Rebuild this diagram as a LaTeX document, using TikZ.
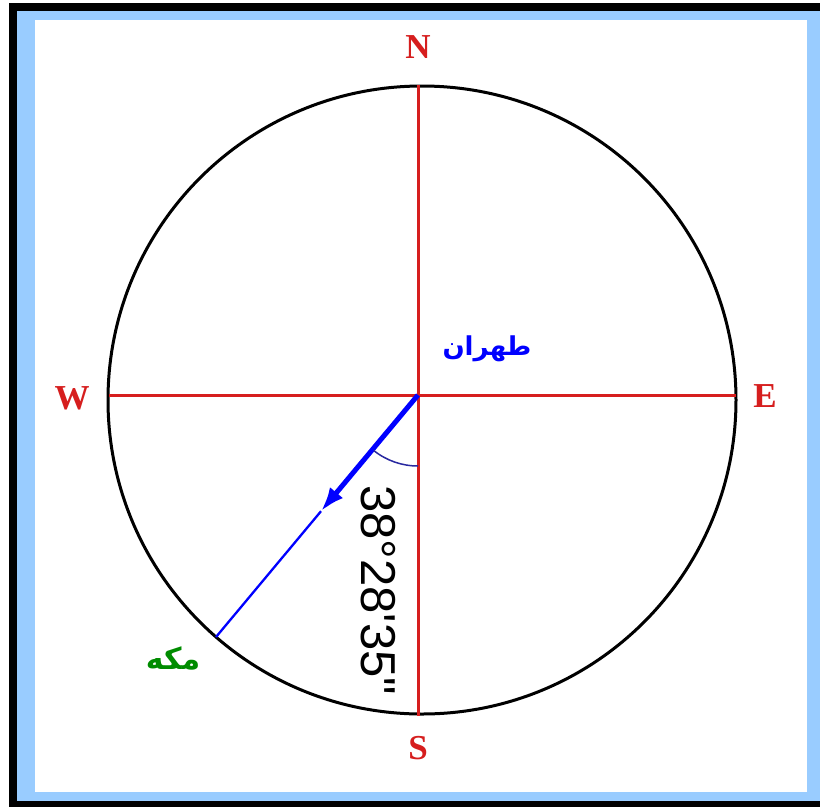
\documentclass[tikz,border=0pt]{standalone}
\usepackage{fontspec}
\setmainfont{Liberation Serif}
\newfontfamily\anglefont{Liberation Sans}
\newfontfamily\arabicfont[Script=Arabic]{DejaVu Sans}
\TeXXeTstate=1
\usetikzlibrary{arrows.meta, calc}

\definecolor{frameblue}{RGB}{153,204,255}
\definecolor{axisred}{RGB}{214,30,30}
\definecolor{arcblue}{RGB}{40,40,160}

\begin{document}
\begin{tikzpicture}[
    x=1pt, y=-1pt,
    dir/.style   = {text=axisred, inner sep=0pt,
                    font=\fontsize{35}{35}\selectfont\bfseries},
    axis/.style  = {draw=axisred, line width=3pt},
    city/.style  = {inner sep=0pt, font=\fontsize{26}{26}\selectfont\arabicfont\bfseries},
    qibla/.style = {draw=blue, line width=5pt, -{Latex[length=24pt,width=17pt]}},
    lbl/.style   = {inner sep=0pt, rotate=-90,
                    font=\fontsize{49}{49}\selectfont\anglefont},
]
    \useasboundingbox (0,0) rectangle (820,807);

    % ── Cadre ──
    \fill[black] (9,3) rectangle (820,807);
    \fill[frameblue] (17,11) rectangle (820,801);
    \fill[white] (35,20) rectangle (807,792);

    % ── Cercle et axes ──
    \draw[line width=3pt] (422,400) circle[radius=314pt];

    \coordinate (tehran) at (418,395);
    \coordinate (north) at (418,85);
    \coordinate (south) at (418,716);
    \coordinate (west) at (109,395);
    \coordinate (east) at (736,395);
    \coordinate (mecca) at (216,637);

    \draw[axis] (north) -- (south);
    \draw[axis] (west) -- (east);

    \node[dir] (n) at (418,47) {N};
    \node[dir] (s) at (418,748) {S};
    \node[dir] (w) at (72,398) {W};
    \node[dir] (e) at (765,396) {E};

    % ── Direction de la qibla ──
    \coordinate (tip) at ($(tehran)!0.48!(mecca)$);
    \draw[blue, line width=2.3pt] (tip) -- (mecca);
    \draw[qibla] (tehran) -- (tip);
    \draw[arcblue, line width=1.5pt] (tehran) ++(0,71) arc[start angle=-90, end angle=-128.5, radius=71pt];

    \node[lbl] (angle) at (378,590) {38°28'35"};

    % ── Villes ──
    \node[city, text=blue] (tehranlbl) at (487,349) {\beginR طهران\endR};
    \node[city, text=green!55!black, font=\fontsize{30}{30}\selectfont\arabicfont\bfseries] (meccalbl) at (173,658) {\beginR مکه\endR};

\end{tikzpicture}
\end{document}
